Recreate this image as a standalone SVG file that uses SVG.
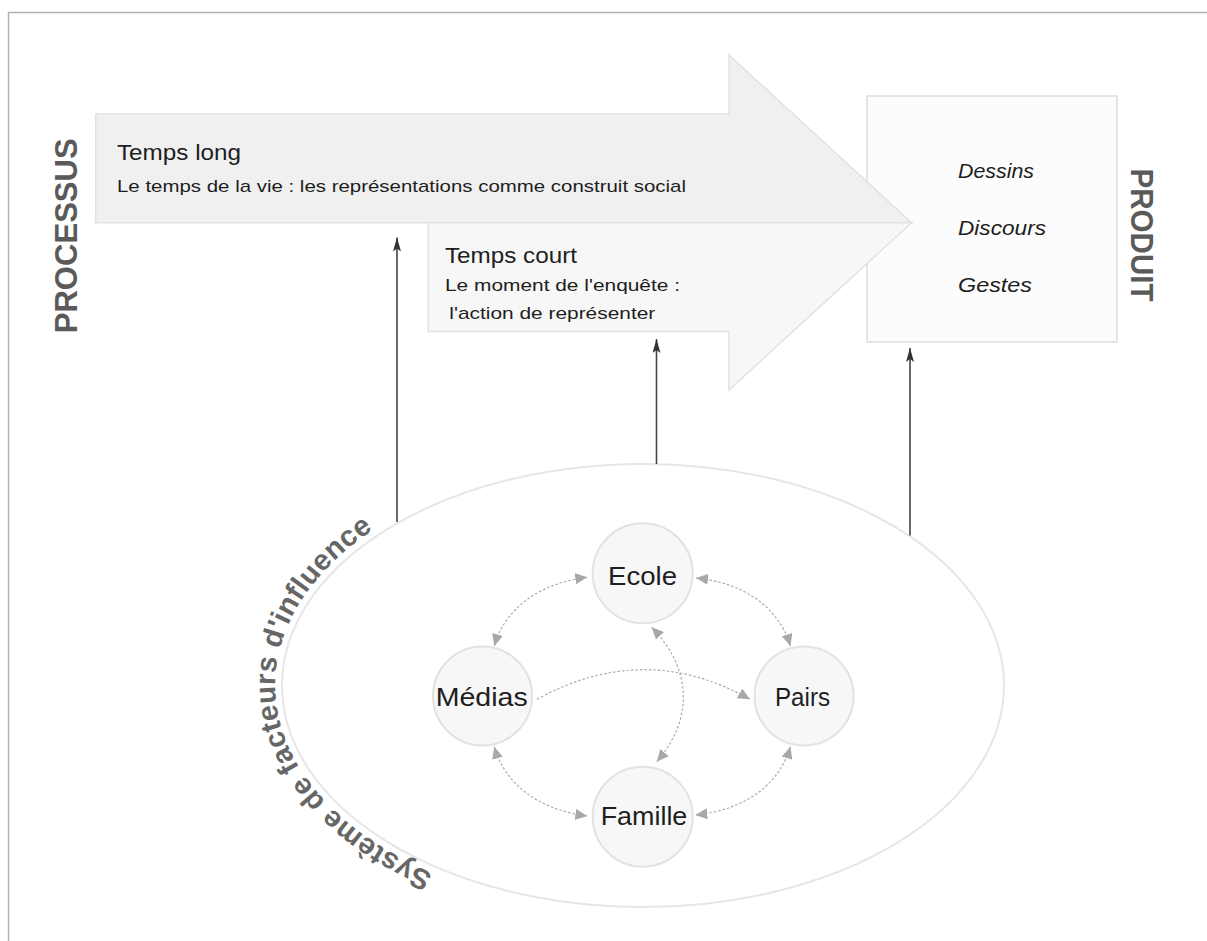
<svg xmlns="http://www.w3.org/2000/svg" width="1207" height="941" viewBox="0 0 1207 941">
<style>
  .frame{stroke:#b3b3b3;stroke-width:1.5;fill:none}
  .upper{fill:#f0f0f0;stroke:#e2e2e2;stroke-width:1.5}
  .lower{fill:#f7f7f7;stroke:#e2e2e2;stroke-width:1.5}
  .prod{fill:#fcfcfc;stroke:#e6e6e6;stroke-width:2}
  .t{font-family:"Liberation Sans",Arial,sans-serif;fill:#1e1e1e}
  .big{font-size:22.5px}
  .small{font-size:17px}
  .it{font-size:21px;font-style:italic}
  .side{font-family:"Liberation Sans",Arial,sans-serif;font-weight:bold;fill:#5a5a5a;font-size:31px}
  .circ{fill:#f7f7f7;stroke:#e2e2e2;stroke-width:2}
  .lbl{font-family:"Liberation Sans",Arial,sans-serif;fill:#1e1e1e;font-size:25px;text-anchor:middle}
  .ell{fill:none;stroke:#e6e6e6;stroke-width:2}
  .solid{stroke:#454545;stroke-width:1.6;fill:none;marker-end:url(#ah)}
  .dot{stroke:#ababab;stroke-width:1.2;fill:none;stroke-dasharray:2.5 2}
  .both{marker-start:url(#gh);marker-end:url(#gh)}
  .one{marker-end:url(#gh)}
  .arc{font-family:"Liberation Sans",Arial,sans-serif;font-weight:bold;fill:#666;font-size:29px;letter-spacing:0.3px}
</style>
<defs>
  <marker id="ah" markerUnits="userSpaceOnUse" markerWidth="14" markerHeight="8" viewBox="0 0 14 8" refX="14" refY="4" orient="auto">
    <path d="M0,0 L14,4 L0,8 L3,4 z" fill="#333"/>
  </marker>
  <marker id="gh" markerUnits="userSpaceOnUse" markerWidth="12" markerHeight="11" viewBox="0 0 12 11" refX="12" refY="5.5" orient="auto-start-reverse">
    <path d="M0,0 L12,5.5 L0,11 z" fill="#a8a8a8"/>
  </marker>
  <path id="arcpath" d="M433,873.5 A368,229 0 0 1 459,487.2"/>
</defs>

<path class="frame" d="M8.5,941 L8.5,12.5 L1207,12.5"/>

<g id="produit">
  <rect class="prod" x="867" y="96" width="250" height="246"/>
  <text class="t it" x="958" y="178.3" textLength="76" lengthAdjust="spacingAndGlyphs">Dessins</text>
  <text class="t it" x="958" y="235" textLength="88" lengthAdjust="spacingAndGlyphs">Discours</text>
  <text class="t it" x="958" y="291.7" textLength="74" lengthAdjust="spacingAndGlyphs">Gestes</text>
</g>

<g id="temps-long">
  <path class="upper" d="M95.7,114 L729,114 L729,55 L911.6,222.7 L95.7,222.7 Z"/>
  <text class="t big" x="117" y="159.5" textLength="124" lengthAdjust="spacingAndGlyphs">Temps long</text>
  <text class="t small" x="117" y="192" textLength="569" lengthAdjust="spacingAndGlyphs">Le temps de la vie : les représentations comme construit social</text>
</g>

<g id="temps-court">
  <path class="lower" d="M428.3,222.7 L911.6,222.7 L729,390 L729,331.5 L428.3,331.5 Z"/>
  <text class="t big" x="445" y="262.6" textLength="132" lengthAdjust="spacingAndGlyphs">Temps court</text>
  <text class="t small" x="445" y="291" textLength="235" lengthAdjust="spacingAndGlyphs">Le moment de l'enquête :</text>
  <text class="t small" x="449.3" y="319" textLength="206" lengthAdjust="spacingAndGlyphs">l'action de représenter</text>
</g>

<g id="processus">
  <text class="side" transform="translate(76.5,235.8) rotate(-90)" x="0" y="0" text-anchor="middle" textLength="195" lengthAdjust="spacingAndGlyphs">PROCESSUS</text>
</g>
<g id="produit-label">
  <text class="side" transform="translate(1131,235) rotate(90)" x="0" y="0" text-anchor="middle" textLength="133" lengthAdjust="spacingAndGlyphs">PRODUIT</text>
</g>

<g id="systeme">
  <ellipse class="ell" cx="643" cy="685.5" rx="361" ry="221.5"/>
  <text class="arc"><textPath href="#arcpath">Système de facteurs d'influence</textPath></text>
</g>

<g id="ecole">
  <circle class="circ" cx="642.7" cy="573.3" r="50"/>
  <text class="lbl" x="642.5" y="585" textLength="69" lengthAdjust="spacingAndGlyphs">Ecole</text>
</g>
<g id="medias">
  <circle class="circ" cx="482.5" cy="696" r="49.5"/>
  <text class="lbl" x="481.7" y="705.7" textLength="92" lengthAdjust="spacingAndGlyphs">Médias</text>
</g>
<g id="pairs">
  <circle class="circ" cx="804" cy="696" r="49.5"/>
  <text class="lbl" x="802.5" y="705.5" textLength="55" lengthAdjust="spacingAndGlyphs">Pairs</text>
</g>
<g id="famille">
  <circle class="circ" cx="642.7" cy="816.7" r="50"/>
  <text class="lbl" x="644" y="825" textLength="86.7" lengthAdjust="spacingAndGlyphs">Famille</text>
</g>

<g id="connectors">
  <path class="solid" d="M397,522 L397,237.5"/>
  <path class="solid" d="M656.5,464 L656.5,339"/>
  <path class="solid" d="M910,535.5 L910,348"/>
  <path class="dot both" d="M494.3,646 C505,608 540,583 587.3,577.3"/>
  <path class="dot both" d="M696,578 C745,583 779,608 790.5,646"/>
  <path class="dot both" d="M494.3,746.7 C505,785 540,810 587.3,816"/>
  <path class="dot both" d="M790.5,746.7 C779,785 745,810 695.3,815"/>
  <path class="dot one" d="M537,699.3 Q645,640 750,699.3"/>
  <path class="dot both" d="M651.7,627.3 C693,670 693,720 656.7,761.7"/>
</g>
</svg>
